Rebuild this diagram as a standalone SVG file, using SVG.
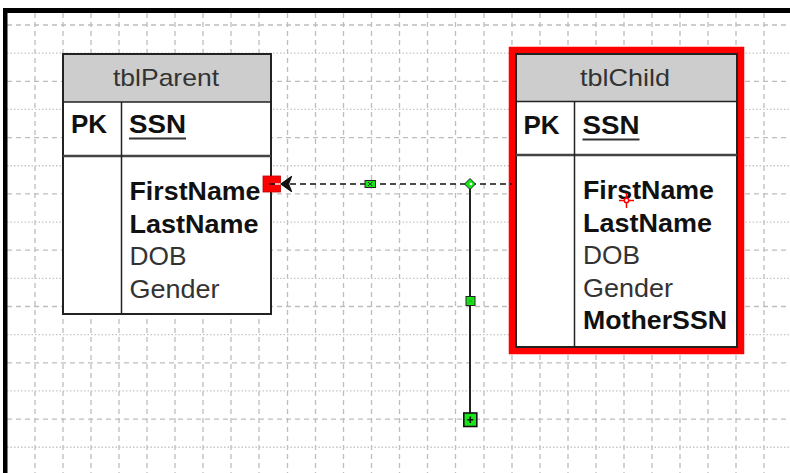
<svg xmlns="http://www.w3.org/2000/svg" width="790" height="473" viewBox="0 0 790 473">
<style>
.gd{stroke:#bdbdbd;stroke-width:1.3;stroke-dasharray:5 4;fill:none}
.gt{stroke:#c6c6c6;stroke-width:1.3;stroke-dasharray:1.5 2;fill:none}
.box{fill:#ffffff;stroke:#222;stroke-width:2}
.hdr{fill:#cdcdcd}
.ln{stroke:#222;stroke-width:1.5;fill:none}
.ln2{stroke:#444;stroke-width:2.5;fill:none}
.title{font-family:"Liberation Sans",Arial,sans-serif;font-size:24px;fill:#333}
.b{font-family:"Liberation Sans",Arial,sans-serif;font-size:26px;font-weight:bold;fill:#111}
.r{font-family:"Liberation Sans",Arial,sans-serif;font-size:26px;fill:#333}
.grn{fill:#19e619;stroke:#222;stroke-width:1}
</style>
<rect x="0" y="0" width="790" height="473" fill="#ffffff"/>
<g id="grid">
<path class="gd" d="M35 13V473M63 13V473M91 13V473M119 13V473M147 13V473M175 13V473M203 13V473M231 13V473M259 13V473M287.5 13V473M315.5 13V473M343.5 13V473M371.5 13V473M399.5 13V473M427.5 13V473M455.5 13V473M484 13V473M512 13V473M540 13V473M568 13V473M596 13V473M624 13V473M652 13V473M680 13V473M708 13V473M736 13V473M764 13V473"/>
<path class="gd" d="M7 25H790M7 81.3H790M7 137.6H790M7 193.9H790M7 250.2H790M7 306.5H790M7 362.8H790M7 419.1H790"/>
<path class="gt" d="M7 53.15H790M7 109.45H790M7 165.75H790M7 222.05H790M7 278.35H790M7 334.65H790M7 390.95H790M7 447.25H790"/>
</g>
<g id="frame">
<rect x="3" y="8" width="787" height="5" fill="#000"/>
<rect x="3" y="8" width="4.5" height="465" fill="#000"/>
</g>
<g id="tblParent">
<rect class="box" x="63" y="54" width="208" height="260"/>
<rect class="hdr" x="64" y="55" width="206" height="47"/>
<line class="ln" x1="63" y1="102" x2="271" y2="102"/>
<line class="ln2" x1="63" y1="156" x2="271" y2="156"/>
<line class="ln" x1="121.5" y1="102" x2="121.5" y2="314"/>
<text class="title" x="113" y="85.5" textLength="106" lengthAdjust="spacingAndGlyphs">tblParent</text>
<text class="b" x="71" y="133">PK</text>
<text class="b" x="129" y="133" textLength="57" lengthAdjust="spacingAndGlyphs">SSN</text>
<line x1="129" y1="138.5" x2="186" y2="138.5" stroke="#333" stroke-width="2"/>
<text class="b" x="129.5" y="200" textLength="131" lengthAdjust="spacingAndGlyphs">FirstName</text>
<text class="b" x="129.5" y="232.7" textLength="129" lengthAdjust="spacingAndGlyphs">LastName</text>
<text class="r" x="129.5" y="265.3" textLength="57" lengthAdjust="spacingAndGlyphs">DOB</text>
<text class="r" x="129.5" y="298" textLength="90" lengthAdjust="spacingAndGlyphs">Gender</text>
</g>
<g id="tblChild">
<rect x="512" y="50" width="229" height="301" fill="none" stroke="#ff0000" stroke-width="6.5"/>
<rect class="box" x="516" y="54" width="221" height="293"/>
<rect class="hdr" x="517" y="55" width="219" height="46.5"/>
<line class="ln" x1="516" y1="101.5" x2="737" y2="101.5"/>
<line class="ln2" x1="516" y1="155" x2="737" y2="155"/>
<line class="ln" x1="574.5" y1="101.5" x2="574.5" y2="347"/>
<text class="title" x="580" y="86" textLength="90" lengthAdjust="spacingAndGlyphs">tblChild</text>
<text class="b" x="523.5" y="134.3">PK</text>
<text class="b" x="582.5" y="134.3" textLength="57" lengthAdjust="spacingAndGlyphs">SSN</text>
<line x1="582.5" y1="139.5" x2="639.5" y2="139.5" stroke="#333" stroke-width="2"/>
<text class="b" x="583" y="199.3" textLength="131" lengthAdjust="spacingAndGlyphs">FirstName</text>
<text class="b" x="583" y="231.7" textLength="129" lengthAdjust="spacingAndGlyphs">LastName</text>
<text class="r" x="583" y="264" textLength="57" lengthAdjust="spacingAndGlyphs">DOB</text>
<text class="r" x="583" y="296.7" textLength="90" lengthAdjust="spacingAndGlyphs">Gender</text>
<text class="b" x="583" y="329.3" textLength="144" lengthAdjust="spacingAndGlyphs">MotherSSN</text>
<g id="cursor" stroke="#ff0000" stroke-width="1.5" fill="none">
<line x1="619" y1="200.5" x2="634" y2="200.5"/>
<line x1="626.5" y1="193" x2="626.5" y2="208"/>
<circle cx="626.5" cy="200.5" r="2.2" fill="#fff"/>
</g>
</g>
<g id="connectors">
<line x1="290" y1="184" x2="512" y2="184" stroke="#111" stroke-width="1.5" stroke-dasharray="6 4"/>
<line x1="470" y1="184" x2="470" y2="413" stroke="#222" stroke-width="2"/>
<rect x="263" y="176" width="17.5" height="16" fill="#ff0000" stroke="#b00" stroke-width="0.8"/>
<line x1="269" y1="184" x2="275" y2="184" stroke="#111" stroke-width="1.5"/>
<line x1="275" y1="184" x2="281" y2="184" stroke="#eee" stroke-width="1.5"/>
<polygon points="281,184 291.5,176.5 288.5,184 291.5,191.5" fill="#111" stroke="#111" stroke-width="1.2" stroke-linejoin="round"/>
<rect class="grn" x="365" y="180.5" width="10.5" height="7" stroke="none"/>
<path d="M368 182L372.5 186M372.5 182L368 186" stroke="#222" stroke-width="1"/>
<polygon class="grn" points="470,178.5 475.5,184 470,189.5 464.5,184"/>
<circle cx="471" cy="184" r="1.3" fill="#fff"/>
<rect class="grn" x="466" y="296.5" width="9" height="9" stroke="none"/>
<path d="M468 298.5L473 303.5M473 298.5L468 303.5" stroke="#2a2" stroke-width="1"/>
<rect x="463.8" y="413" width="13" height="13.5" fill="#19e619" stroke="#111" stroke-width="1.6"/>
<path d="M470.3 416.5V423M467.3 419.7H473.3" stroke="#111" stroke-width="1.6"/>
</g>
</svg>
